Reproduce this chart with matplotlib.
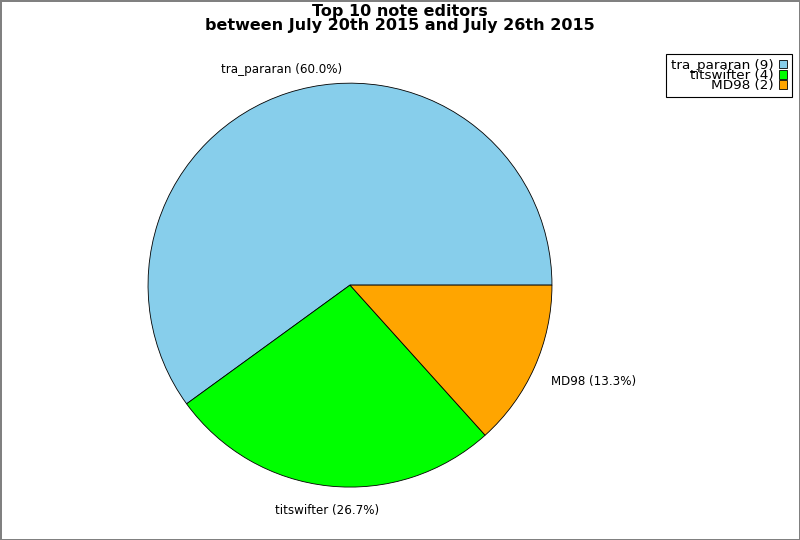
import matplotlib
matplotlib.use('Agg')
import matplotlib.pyplot as plt
import matplotlib.patches as pcs

# Data
editors = ['tra_pararan', 'titswifter', 'MD98']
edits = [9, 4, 2]
colors = ['skyblue', '#00ff00', 'orange']

fig = plt.figure(figsize=(8, 5.4), dpi=100, edgecolor='gray', linewidth=2)
ax = fig.add_axes([0.185, 0.098, 0.505, 0.748])

total = float(sum(edits))
labels = ['%s (%.1f%%)' % (e, 100 * n / total) for e, n in zip(editors, edits)]
wedges, texts = ax.pie(edits, labels=labels, colors=colors, startangle=0,
                       counterclock=True, labeldistance=1.09,
                       wedgeprops={'edgecolor': 'black', 'linewidth': 0.6},
                       textprops={'fontsize': 8.6})
for t in texts:
    x, y = t.get_position()
    if abs(x) < 0.5:
        t.set_horizontalalignment('center')
    t.set_verticalalignment('bottom' if y > 0 else 'top')
ax.set_xlim(-1, 1)
ax.set_ylim(-1, 1)
ax.set_aspect('equal')

fig.text(0.5, 0.992, 'Top 10 note editors\nbetween July 20th 2015 and July 26th 2015',
         ha='center', va='top', fontsize=11.5, fontweight='bold', linespacing=0.85)

handles = [pcs.Patch(facecolor=c, edgecolor='black', linewidth=0.6,
                     label='%s (%d)' % (e, n))
           for c, e, n in zip(colors, editors, edits)]
leg = fig.legend(handles=handles, loc='upper right', bbox_to_anchor=(0.99, 0.9),
                 fontsize=9.7, markerfirst=False, fancybox=False, framealpha=1,
                 edgecolor='black', labelspacing=-0.2, handlelength=0.6,
                 handleheight=0.6, handletextpad=0.4, borderpad=0.35,
                 borderaxespad=0)
leg.get_frame().set_linewidth(0.8)
for t in leg.get_texts():
    t.set_ha('right')
leg._legend_box.align = 'right'

fig.savefig('out.png', dpi=100, edgecolor=fig.get_edgecolor())
